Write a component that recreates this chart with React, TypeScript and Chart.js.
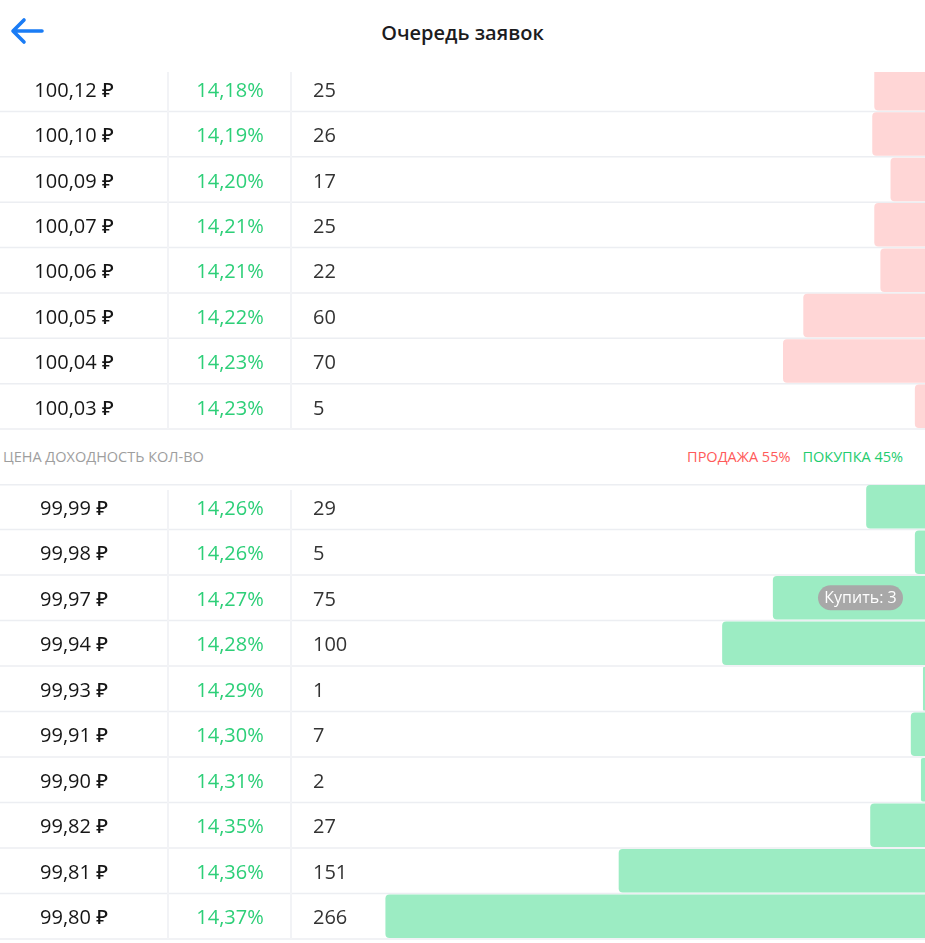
import React, { useEffect, useRef } from "react";
import { Chart, registerables } from "chart.js";

Chart.register(...registerables);

const sellPrices = ["100,12 ₽", "100,10 ₽", "100,09 ₽", "100,07 ₽", "100,06 ₽", "100,05 ₽", "100,04 ₽", "100,03 ₽"];
const sellYields = ["14,18%", "14,19%", "14,20%", "14,21%", "14,21%", "14,22%", "14,23%", "14,23%"];
const sellQty = [25, 26, 17, 25, 22, 60, 70, 5];

const buyPrices = ["99,99 ₽", "99,98 ₽", "99,97 ₽", "99,94 ₽", "99,93 ₽", "99,91 ₽", "99,90 ₽", "99,82 ₽", "99,81 ₽", "99,80 ₽"];
const buyYields = ["14,26%", "14,26%", "14,27%", "14,28%", "14,29%", "14,30%", "14,31%", "14,35%", "14,36%", "14,37%"];
const buyQty = [29, 5, 75, 100, 1, 7, 2, 27, 151, 266];

const title = "Очередь заявок";
const headerLeft = "ЦЕНА ДОХОДНОСТЬ КОЛ-ВО";
const sellShare = "ПРОДАЖА 55%";
const buyShare = "ПОКУПКА 45%";
const badgeRow = 2;
const badgeText = "Купить: 3";
const qtyAxisMax = 456;

const FONT = "'Open Sans', 'Noto Sans', 'DejaVu Sans', sans-serif";
const LINE = "#eceef2";

function makeTablePlugin(prices: string[], yields: string[], qty: number[], drawTopLine: boolean, badge: { row: number; text: string } | null) {
  return {
    id: "tableText",
    beforeDatasetsDraw(chart: any) {
      const ctx = chart.ctx;
      const y = chart.scales.y;
      const area = chart.chartArea;
      const n = prices.length;
      ctx.save();
      ctx.strokeStyle = LINE;
      ctx.lineWidth = 1.5;
      const half = (y.getPixelForValue(1) - y.getPixelForValue(0)) / 2;
      for (let i = 0; i < n; i++) {
        const yb = y.getPixelForValue(i) + half;
        ctx.beginPath();
        ctx.moveTo(area.left, yb);
        ctx.lineTo(area.right, yb);
        ctx.stroke();
      }
      if (drawTopLine) {
        const yt = y.getPixelForValue(0) - half;
        ctx.beginPath();
        ctx.moveTo(area.left, yt + 0.75);
        ctx.lineTo(area.right, yt + 0.75);
        ctx.stroke();
      }
      ctx.strokeStyle = "#f2f3f6";
      ctx.lineWidth = 2;
      const top = y.getPixelForValue(0) - half;
      const bottom = y.getPixelForValue(n - 1) + half;
      [168, 291].forEach((x) => {
        ctx.beginPath();
        ctx.moveTo(x, top + 6);
        ctx.lineTo(x, bottom);
        ctx.stroke();
      });
      ctx.restore();
    },
    afterDatasetsDraw(chart: any) {
      const ctx = chart.ctx;
      const y = chart.scales.y;
      ctx.save();
      ctx.textBaseline = "middle";
      for (let i = 0; i < prices.length; i++) {
        const py = y.getPixelForValue(i) + 2.5;
        ctx.textAlign = "center";
        ctx.font = `500 20px ${FONT}`;
        ctx.fillStyle = "#161616";
        ctx.fillText(prices[i], 74, py);
        ctx.font = `400 20px ${FONT}`;
        ctx.fillStyle = "#2dcf78";
        ctx.fillText(yields[i], 230, py);
        ctx.textAlign = "left";
        ctx.fillStyle = "#333333";
        ctx.fillText(String(qty[i]), 313, py);
      }
      if (badge) {
        const by = y.getPixelForValue(badge.row);
        ctx.font = `400 16px ${FONT}`;
        const w = 85;
        const h = 25;
        const x0 = 818;
        const r = h / 2;
        ctx.fillStyle = "#a8a8a8";
        ctx.beginPath();
        ctx.moveTo(x0 + r, by - r);
        ctx.lineTo(x0 + w - r, by - r);
        ctx.arc(x0 + w - r, by, r, -Math.PI / 2, Math.PI / 2);
        ctx.lineTo(x0 + r, by + r);
        ctx.arc(x0 + r, by, r, Math.PI / 2, (3 * Math.PI) / 2);
        ctx.closePath();
        ctx.fill();
        ctx.fillStyle = "#ffffff";
        ctx.textAlign = "center";
        ctx.fillText(badge.text, x0 + w / 2, by + 1);
      }
      ctx.restore();
    },
  };
}

function BookChart(props: {
  prices: string[];
  yields: string[];
  qty: number[];
  color: string;
  height: number;
  padTop: number;
  padBottom: number;
  topLine: boolean;
  badge: { row: number; text: string } | null;
}) {
  const ref = useRef<HTMLCanvasElement | null>(null);
  useEffect(() => {
    if (!ref.current) return;
    const chart = new Chart(ref.current, {
      type: "bar",
      data: {
        labels: props.prices,
        datasets: [
          {
            data: props.qty,
            backgroundColor: props.color,
            borderWidth: 0,
            borderRadius: 4,
            borderSkipped: "start",
            barPercentage: 0.96,
            categoryPercentage: 1,
          },
        ],
      },
      options: {
        indexAxis: "y",
        animation: false,
        responsive: false,
        maintainAspectRatio: false,
        layout: { padding: { top: props.padTop, bottom: props.padBottom, left: 0, right: 0 } },
        plugins: { legend: { display: false }, tooltip: { enabled: false }, title: { display: false } },
        scales: {
          x: { type: "linear", reverse: true, min: 0, max: qtyAxisMax, display: false },
          y: { type: "category", display: false, offset: true },
        },
      },
      plugins: [makeTablePlugin(props.prices, props.yields, props.qty, props.topLine, props.badge)],
    } as any);
    return () => chart.destroy();
  }, []);
  return <canvas ref={ref} width={925} height={props.height} style={{ display: "block", width: 925, height: props.height }} />;
}

export default function App() {
  useEffect(() => {
    document.body.style.margin = "0";
    document.body.style.overflow = "hidden";
  }, []);
  return (
    <div style={{ position: "relative", width: 925, height: 943, overflow: "hidden", background: "#ffffff", fontFamily: FONT }}>
      <svg width="40" height="34" style={{ position: "absolute", left: 8, top: 14 }} viewBox="0 0 40 34">
        <path d="M6 17 H34 M16 6 L5 17 L16 28" stroke="#1a7cf5" strokeWidth="3.6" fill="none" strokeLinecap="round" strokeLinejoin="round" />
      </svg>
      <div style={{ position: "absolute", left: 0, top: 0, width: 925, height: 66, lineHeight: "66px", textAlign: "center", fontSize: 20, fontWeight: 600, color: "#1c1c1e" }}>
        {title}
      </div>
      <div style={{ position: "absolute", left: 0, top: 72, width: 925, height: 359, overflow: "hidden" }}>
        <div style={{ position: "absolute", left: 0, top: -12 }}>
          <BookChart prices={sellPrices} yields={sellYields} qty={sellQty} color="#ffd6d6" height={371} padTop={6} padBottom={2} topLine={false} badge={null} />
        </div>
      </div>
      <div style={{ position: "absolute", left: 3, top: 445, height: 24, lineHeight: "24px", fontSize: 14.5, color: "#9e9e9e" }}>
        {headerLeft}
      </div>
      <div style={{ position: "absolute", right: 22, top: 445, height: 24, lineHeight: "24px", fontSize: 14.5, fontWeight: 500 }}>
        <span style={{ color: "#ff5a5a" }}>{sellShare}</span>
        <span style={{ color: "#22cc6e", marginLeft: 12 }}>{buyShare}</span>
      </div>
      <div style={{ position: "absolute", left: 0, top: 480 }}>
        <BookChart prices={buyPrices} yields={buyYields} qty={buyQty} color="#9cecc3" height={463} padTop={4} padBottom={4} topLine={true} badge={{ row: badgeRow, text: badgeText }} />
      </div>
    </div>
  );
}
